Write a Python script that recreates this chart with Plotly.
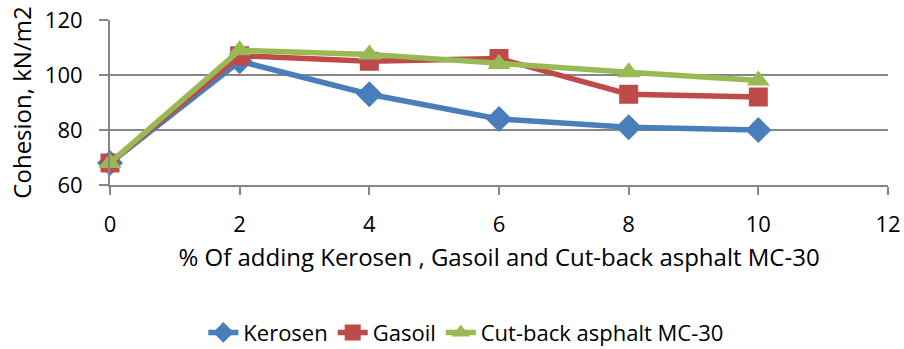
import plotly.graph_objects as go

# Percent additive and cohesion results for each additive
percent = [0, 2, 4, 6, 8, 10]
kerosen = [68, 105, 93, 84, 81, 80]
gasoil = [68, 107, 105, 106, 93, 92]
cutback = [68, 109, 107.5, 104, 101, 98]

x_ticks = [0, 2, 4, 6, 8, 10, 12]
y_ticks = [60, 80, 100, 120]

series = [
    ("Kerosen", kerosen, "#4a7ebb", "diamond", 20),
    ("Gasoil", gasoil, "#be4b48", "square", 19),
    ("Cut-back asphalt MC-30", cutback, "#98b954", "triangle-up", 20),
]

FONT = "Open Sans, sans-serif"

fig = go.Figure()
for name, vals, color, symbol, size in series:
    fig.add_trace(go.Scatter(
        x=percent, y=vals, name=name, mode="lines+markers",
        line=dict(color=color, width=5.5),
        marker=dict(symbol=symbol, size=size, color=color),
        cliponaxis=False,
    ))

fig.update_layout(
    width=904, height=349,
    margin=dict(l=110, r=16, t=20, b=164, autoexpand=False),
    paper_bgcolor="white", plot_bgcolor="white",
    font=dict(family=FONT, size=22, color="black"),
    showlegend=True,
    legend=dict(orientation="h", x=0.458, xanchor="center", y=-0.895, yanchor="middle",
                font=dict(size=22), traceorder="normal", itemwidth=30),
    xaxis=dict(
        range=[0, 12], tickvals=x_ticks, showgrid=False,
        showline=True, linecolor="#868686", linewidth=2,
        ticks="outside", ticklen=8, tickcolor="#868686", tickwidth=2,
        ticklabelstandoff=11,
        title=dict(text="% Of adding Kerosen , Gasoil and Cut-back asphalt MC-30",
                   font=dict(size=24), standoff=12),
        zeroline=False,
    ),
    yaxis=dict(
        range=[60, 120], tickvals=y_ticks, showgrid=True,
        gridcolor="#868686", gridwidth=2,
        showline=True, linecolor="#868686", linewidth=2,
        ticks="outside", ticklen=9, tickcolor="#868686", tickwidth=2,
        ticklabelstandoff=12,
        title=dict(text="Cohesion, kN/m2", font=dict(size=24), standoff=6),
        zeroline=False,
    ),
)

fig.write_html("out.html")
